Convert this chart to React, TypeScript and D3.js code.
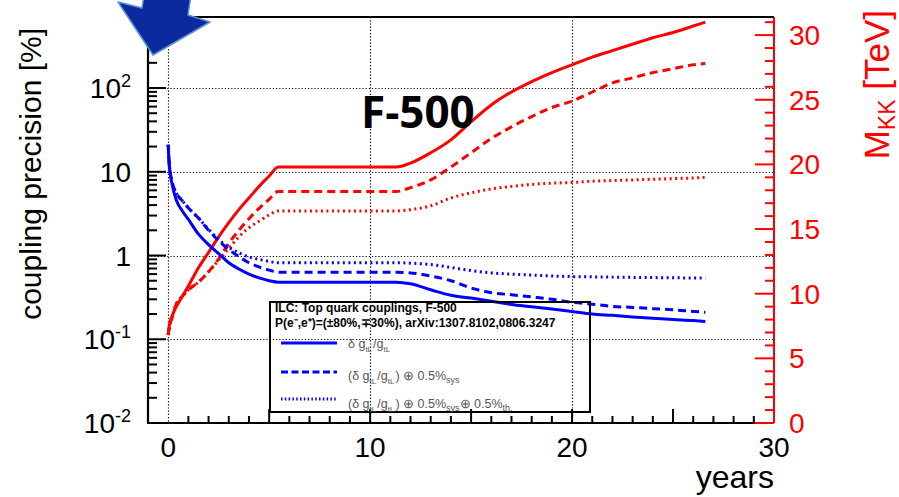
import * as d3 from 'd3';

// years of running
const years = [0, 0.05, 0.2, 0.4, 0.7, 1, 1.5, 2, 2.5, 3, 3.5, 4, 4.5, 5, 5.45, 8, 11.3, 12, 13, 14, 15, 16, 17, 18, 19, 20, 21, 22, 23, 24, 25, 26, 26.6];

// coupling precision [%] (left axis, log)
const precStat = [21, 12, 7, 4.6, 3.4, 2.7, 1.8, 1.35, 1.05, 0.82, 0.69, 0.6, 0.54, 0.5, 0.48, 0.48, 0.48, 0.46, 0.39, 0.335, 0.31, 0.285, 0.26, 0.245, 0.23, 0.215, 0.2, 0.193, 0.185, 0.178, 0.172, 0.167, 0.163];
const precSys = [21, 13, 7.5, 5.6, 4.5, 3.7, 2.8, 2.0, 1.5, 1.18, 0.97, 0.82, 0.73, 0.67, 0.63, 0.63, 0.63, 0.62, 0.57, 0.5, 0.41, 0.36, 0.34, 0.32, 0.3, 0.276, 0.262, 0.247, 0.24, 0.232, 0.225, 0.215, 0.21];
const precSysTh = [21, 13, 7.5, 5.6, 4.5, 3.7, 2.8, 2.05, 1.55, 1.25, 1.08, 0.96, 0.9, 0.85, 0.82, 0.82, 0.82, 0.81, 0.78, 0.72, 0.66, 0.62, 0.6, 0.585, 0.57, 0.56, 0.556, 0.552, 0.548, 0.545, 0.542, 0.54, 0.54];

// M_KK [TeV] (right axis)
const mkkStat = [6.8, 7.5, 8.3, 9.0, 9.8, 10.6, 12.0, 13.2, 14.4, 15.5, 16.5, 17.4, 18.3, 19.1, 19.8, 19.8, 19.8, 20.1, 20.9, 21.9, 23.3, 24.6, 25.6, 26.4, 27.1, 27.7, 28.3, 28.8, 29.3, 29.8, 30.2, 30.7, 31.0];
const mkkSys = [6.8, 7.3, 8.2, 9.2, 9.8, 10.3, 10.9, 11.7, 12.7, 13.9, 14.9, 15.8, 16.6, 17.3, 17.9, 17.9, 17.9, 18.2, 18.8, 19.8, 20.9, 22.0, 22.9, 23.7, 24.4, 24.9, 25.6, 26.3, 26.7, 27.1, 27.4, 27.7, 27.8];
const mkkSysTh = [6.8, 7.3, 8.2, 9.2, 9.8, 10.3, 10.9, 11.7, 12.6, 13.5, 14.4, 15.1, 15.6, 16.1, 16.4, 16.4, 16.4, 16.5, 16.8, 17.4, 17.8, 18.1, 18.3, 18.45, 18.55, 18.6, 18.7, 18.75, 18.8, 18.85, 18.9, 18.95, 19.0];

const xTickLabels = [0, 10, 20, 30];
const yDecades = [-2, -1, 0, 1, 2];
const mkkTickLabels = [0, 5, 10, 15, 20, 25, 30];

const W = 899;
const H = 497;
const left = 148;
const right = 774;
const top = 17;
const bottom = 423;

const x = d3.scaleLinear().domain([-1, 30]).range([left, right]);
const yL = d3.scaleLog().domain([0.01, 705]).range([bottom, top]);
const yR = d3.scaleLinear().domain([0, 31.4]).range([bottom, top]);

const BLUE = '#0000ff';
const RED = '#ff0000';
const font = '"Liberation Sans", Arial, Helvetica, sans-serif';

const dashes = { solid: undefined, dashed: '8 5', dotted: '2 3.5' } as const;

const App = () => {
  const lineL = d3
    .line<number>()
    .x((_, i) => x(years[i]))
    .y((d) => yL(d))
    .curve(d3.curveMonotoneX);
  const lineR = d3
    .line<number>()
    .x((_, i) => x(years[i]))
    .y((d) => yR(d))
    .curve(d3.curveMonotoneX);

  // log axis minor ticks
  const logMinor: number[] = [];
  yDecades.forEach((e) => {
    for (let m = 2; m <= 9; m++) {
      const v = m * Math.pow(10, e);
      if (v < 705) logMinor.push(v);
    }
  });
  const xMinor = d3.range(1, 30).filter((v) => v % 5 !== 0);
  const xMajor = [5, 10, 15, 20, 25];
  const rMinor = d3.range(0, 32).filter((v) => v % 5 !== 0);

  const series = [
    { d: lineR(mkkStat), c: RED, s: dashes.solid },
    { d: lineR(mkkSys), c: RED, s: dashes.dashed },
    { d: lineR(mkkSysTh), c: RED, s: dashes.dotted },
    { d: lineL(precStat), c: BLUE, s: dashes.solid },
    { d: lineL(precSys), c: BLUE, s: dashes.dashed },
    { d: lineL(precSysTh), c: BLUE, s: dashes.dotted }
  ];

  const sub = (t: string) => (
    <>
      <tspan dy={4} fontSize={8}>{t}</tspan>
      <tspan dy={-4}>{'\u200a'}</tspan>
    </>
  );
  const coupling = (paren: boolean) => (
    <>
      {paren ? '(' : ''}δ g{sub('tL')}/g{sub('tL')}
      {paren ? ')' : ''}
    </>
  );

  return (
    <div style={{ position: 'absolute', left: 0, top: 0 }}>
      <svg width={W} height={H} viewBox={`0 0 ${W} ${H}`} style={{ display: 'block', background: '#fff' }}>
        {/* grid */}
        <g stroke="#000" strokeWidth={1.2} strokeDasharray="1.2 2">
          {[0, 10, 20].map((v) => (
            <line key={'gx' + v} x1={Math.round(x(v)) + 0.5} x2={Math.round(x(v)) + 0.5} y1={top} y2={bottom} />
          ))}
          {[-1, 0, 1, 2].map((e) => (
            <line
              key={'gy' + e}
              x1={left}
              x2={right}
              y1={Math.round(yL(Math.pow(10, e))) + 0.5}
              y2={Math.round(yL(Math.pow(10, e))) + 0.5}
            />
          ))}
        </g>

        {/* curves */}
        {series.map((s, i) => (
          <path key={i} d={s.d ?? ''} fill="none" stroke={s.c} strokeWidth={3} strokeDasharray={s.s} />
        ))}

        {/* frame */}
        <g stroke="#000" strokeWidth={2.2}>
          <line x1={left} x2={right} y1={top} y2={top} />
          <line x1={left} x2={left} y1={top} y2={bottom + 1} />
          <line x1={left} x2={right} y1={bottom} y2={bottom} />
        </g>
        <g stroke="#000" strokeWidth={2}>
          {yDecades.map((e) => (
            <line key={'lt' + e} x1={left} x2={left + 18} y1={yL(Math.pow(10, e))} y2={yL(Math.pow(10, e))} />
          ))}
          {logMinor.map((v) => (
            <line key={'lm' + v} x1={left} x2={left + 9} y1={yL(v)} y2={yL(v)} />
          ))}
          {xMajor.map((v) => (
            <line key={'bt' + v} x1={x(v)} x2={x(v)} y1={bottom} y2={bottom - 14} />
          ))}
          {xMinor.map((v) => (
            <line key={'bm' + v} x1={x(v)} x2={x(v)} y1={bottom} y2={bottom - 7} />
          ))}
        </g>
        <g stroke={RED} strokeWidth={2}>
          <line x1={right} x2={right} y1={top} y2={bottom} />
          {mkkTickLabels.map((v) => (
            <line key={'rt' + v} x1={right} x2={right - 19} y1={yR(v)} y2={yR(v)} />
          ))}
          {rMinor.map((v) => (
            <line key={'rm' + v} x1={right} x2={right - 9} y1={yR(v)} y2={yR(v)} />
          ))}
        </g>

        {/* left tick labels */}
        <g fontFamily={font} fontSize={28} textAnchor="end" fill="#000">
          {yDecades.map((e) => (
            <text key={'ll' + e} x={131} y={yL(Math.pow(10, e)) + 10}>
              {e === 0 ? '1' : '10'}
              {e !== 0 && e !== 1 ? (
                <tspan dy={-11} fontSize={18}>
                  {String(e)}
                </tspan>
              ) : null}
            </text>
          ))}
        </g>

        {/* bottom tick labels */}
        <g fontFamily={font} fontSize={28} textAnchor="middle" fill="#000">
          {xTickLabels.map((v) => (
            <text key={'xl' + v} x={x(v)} y={457}>
              {v}
            </text>
          ))}
          <text x={right} y={488} textAnchor="end" fontSize={32}>
            years
          </text>
        </g>

        {/* right tick labels */}
        <g fontFamily={font} fontSize={28} fill={RED}>
          {mkkTickLabels.map((v) => (
            <text key={'rl' + v} x={789} y={yR(v) + 10}>
              {v}
            </text>
          ))}
        </g>

        {/* axis titles */}
        <text transform="translate(41,28) rotate(-90)" textAnchor="end" fontFamily={font} fontSize={30} fill="#000">
          coupling precision [%]
        </text>
        <text transform="translate(889,10) rotate(-90)" textAnchor="end" fontFamily={font} fontSize={35} fill={RED}>
          M<tspan dy={6} fontSize={23}>KK</tspan>
          <tspan dy={-6}> [TeV]</tspan>
        </text>

        <text x={361} y={128} fontFamily='"Open Sans", sans-serif' fontWeight="bold" fontSize={44} fill="#000">
          F-500
        </text>

        {/* legend */}
        <rect x={270} y={302} width={320} height={110} fill="none" stroke="#000" strokeWidth={2} />
        <g fontFamily={font} fontWeight="bold" fontSize={12} fill="#000">
          <text x={275} y={312}>
            ILC: Top quark couplings, F-500
          </text>
          <text x={275} y={327}>
            P(e⁻,e⁺)=(±80%,∓30%), arXiv:1307.8102,0806.3247
          </text>
        </g>
        <g>
          <line x1={281} x2={337} y1={343} y2={343} stroke={BLUE} strokeWidth={3} />
          <line x1={281} x2={337} y1={372} y2={372} stroke={BLUE} strokeWidth={3} strokeDasharray="7 3.5" />
          <line x1={281} x2={337} y1={399} y2={399} stroke={BLUE} strokeWidth={3} strokeDasharray="1.5 2.3" />
        </g>
        <g fontFamily={font} fontSize={12.5} fill="#555">
          <text x={348} y={348}>{coupling(false)}</text>
          <text x={348} y={380}>
            {coupling(true)} ⊕ 0.5%<tspan dy={3} fontSize={9}>sys</tspan>
          </text>
          <text x={348} y={408}>
            {coupling(true)} ⊕ 0.5%<tspan dy={3} fontSize={9}>sys</tspan>
            <tspan dy={-3}>⊕ 0.5%</tspan>
            <tspan dy={3} fontSize={9}>th.</tspan>
          </text>
        </g>

        {/* arrow */}
        <polygon
          points="118,2 142,8 144,-5 191,-5 188,15 210,22 153,55"
          fill="#0a2a9e"
          stroke="#5b8fd6"
          strokeWidth={1.5}
          strokeLinejoin="round"
        />
      </svg>
    </div>
  );
};

export default App;
